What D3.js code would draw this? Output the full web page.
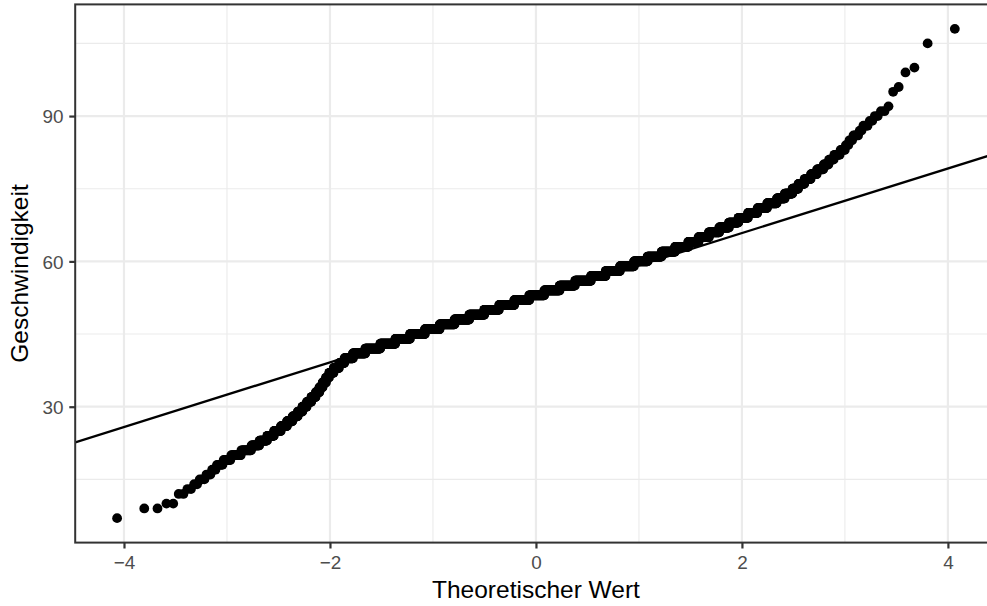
<!DOCTYPE html>
<html>
<head>
<meta charset="utf-8">
<script src="https://cdn.jsdelivr.net/npm/d3@7"></script>
<style>
  body { margin: 0; background: #fff; }
  text { font-family: "Liberation Sans", Arial, Helvetica, sans-serif; }
</style>
</head>
<body>
<div id="chart"></div>
<script>
const speedValues = [7, 9, 10, 12, 13, 14, 15, 16, 17, 18, 19, 20, 21, 22, 23, 24, 25, 26, 27, 28,
    29, 30, 31, 32, 33, 34, 35, 36, 37, 38, 39, 40, 41, 42, 43, 44, 45, 46, 47, 48,
    49, 50, 51, 52, 53, 54, 55, 56, 57, 58, 59, 60, 61, 62, 63, 64, 65, 66, 67, 68,
    69, 70, 71, 72, 73, 74, 75, 76, 77, 78, 79, 80, 81, 82, 83, 84, 85, 86, 87, 88,
    89, 90, 91, 92, 95, 96, 99, 100, 105, 108];
const speedCounts = [1, 2, 2, 2, 2, 2, 3, 3, 3, 5, 7, 12, 16, 16, 19, 20, 24, 25, 26, 28,
    27, 29, 33, 35, 31, 30, 32, 34, 52, 67, 74, 131, 232, 348, 434, 522, 622, 727, 830, 931,
    1021, 1110, 1175, 1215, 1230, 1225, 1200, 1160, 1000, 880, 770, 654, 592, 475, 391, 262, 223, 190, 148, 123,
    103, 84, 70, 57, 38, 31, 20, 18, 16, 13, 12, 8, 7, 7, 5, 3, 3, 4, 2, 3,
    2, 2, 2, 1, 1, 1, 1, 1, 1, 1];

const xTicks = [-4, -2, 0, 2, 4];
const xTickLabels = ["\u22124", "\u22122", "0", "2", "4"];
const yTicks = [30, 60, 90];
const yTickLabels = ["30", "60", "90"];
const xTitle = "Theoretischer Wert";
const yTitle = "Geschwindigkeit";

// inverse normal cdf (Acklam)
function qnorm(p) {
    const a = [-3.969683028665376e+01, 2.209460984245205e+02, -2.759285104469687e+02, 1.383577518672690e+02, -3.066479806614716e+01, 2.506628277459239e+00];
    const b = [-5.447609879822406e+01, 1.615858368580409e+02, -1.556989798598866e+02, 6.680131188771972e+01, -1.328068155288572e+01];
    const c = [-7.784894002430293e-03, -3.223964580411365e-01, -2.400758277161838e+00, -2.549732539343734e+00, 4.374664141464968e+00, 2.938163982698783e+00];
    const d = [7.784695709041462e-03, 3.224671290700398e-01, 2.445134137142996e+00, 3.754408661907416e+00];
    const pl = 0.02425;
    let q, r;
    if (p < pl) {
        q = Math.sqrt(-2 * Math.log(p));
        return (((((c[0]*q+c[1])*q+c[2])*q+c[3])*q+c[4])*q+c[5]) / ((((d[0]*q+d[1])*q+d[2])*q+d[3])*q+1);
    }
    if (p > 1 - pl) {
        q = Math.sqrt(-2 * Math.log(1 - p));
        return -(((((c[0]*q+c[1])*q+c[2])*q+c[3])*q+c[4])*q+c[5]) / ((((d[0]*q+d[1])*q+d[2])*q+d[3])*q+1);
    }
    q = p - 0.5; r = q * q;
    return (((((a[0]*r+a[1])*r+a[2])*r+a[3])*r+a[4])*r+a[5])*q / (((((b[0]*r+b[1])*r+b[2])*r+b[3])*r+b[4])*r+1);
}

// expand the frequency table to a sorted sample, then stat_qq
const sample = [];
speedValues.forEach((v, i) => { for (let k = 0; k < speedCounts[i]; k++) sample.push(v); });
const n = sample.length;
const qq = sample.map((v, i) => ({ theo: qnorm((i + 0.5) / n), speed: v }));

// stat_qq_line through the quartiles
const q1 = d3.quantile(sample, 0.25), q3 = d3.quantile(sample, 0.75);
const slope = (q3 - q1) / (qnorm(0.75) - qnorm(0.25));
const intercept = q1 - slope * qnorm(0.25);

const width = 987, height = 606;
const panel = { left: 75.2, right: 996.7, top: 4.4, bottom: 542.6 };

const xExt = d3.extent(qq, d => d.theo), yExt = d3.extent(sample);
const xPad = (xExt[1] - xExt[0]) * 0.05, yPad = (yExt[1] - yExt[0]) * 0.05;
const x = d3.scaleLinear().domain([xExt[0] - xPad, xExt[1] + xPad]).range([panel.left, panel.right]);
const y = d3.scaleLinear().domain([yExt[0] - yPad, yExt[1] + yPad]).range([panel.bottom, panel.top]);

const svg = d3.select("#chart").append("svg")
    .attr("width", width)
    .attr("height", height);

svg.append("defs").append("clipPath").attr("id", "panelClip")
    .append("rect")
    .attr("x", panel.left).attr("y", panel.top)
    .attr("width", panel.right - panel.left).attr("height", panel.bottom - panel.top);

// minor grid
const xMinor = d3.range(-3, 5, 2).filter(v => v > x.domain()[0] && v < x.domain()[1]);
const yMinor = [15, 45, 75, 105].filter(v => v > y.domain()[0] && v < y.domain()[1]);
const grid = svg.append("g").attr("clip-path", "url(#panelClip)");
grid.selectAll(".xminor").data(xMinor).enter().append("line")
    .attr("x1", d => x(d)).attr("x2", d => x(d))
    .attr("y1", panel.top).attr("y2", panel.bottom)
    .attr("stroke", "#EBEBEB").attr("stroke-width", 1.1);
grid.selectAll(".yminor").data(yMinor).enter().append("line")
    .attr("x1", panel.left).attr("x2", panel.right)
    .attr("y1", d => y(d)).attr("y2", d => y(d))
    .attr("stroke", "#EBEBEB").attr("stroke-width", 1.1);
// major grid
grid.selectAll(".xmajor").data(xTicks).enter().append("line")
    .attr("x1", d => x(d)).attr("x2", d => x(d))
    .attr("y1", panel.top).attr("y2", panel.bottom)
    .attr("stroke", "#EBEBEB").attr("stroke-width", 2.2);
grid.selectAll(".ymajor").data(yTicks).enter().append("line")
    .attr("x1", panel.left).attr("x2", panel.right)
    .attr("y1", d => y(d)).attr("y2", d => y(d))
    .attr("stroke", "#EBEBEB").attr("stroke-width", 2.2);

// points (skip exact pixel duplicates, they overlap anyway)
const seen = new Set();
const dots = qq.filter(d => {
    const key = Math.round(x(d.theo) * 3) + "_" + d.speed;
    if (seen.has(key)) return false;
    seen.add(key);
    return true;
});
const plot = svg.append("g").attr("clip-path", "url(#panelClip)");
plot.selectAll("circle").data(dots).enter().append("circle")
    .attr("cx", d => x(d.theo))
    .attr("cy", d => y(d.speed))
    .attr("r", 4.9)
    .attr("fill", "#000");

// qq line
const xd = x.domain();
plot.append("line")
    .attr("x1", x(xd[0])).attr("y1", y(intercept + slope * xd[0]))
    .attr("x2", x(xd[1])).attr("y2", y(intercept + slope * xd[1]))
    .attr("stroke", "#000").attr("stroke-width", 2.3);

// panel border
svg.append("rect")
    .attr("x", panel.left).attr("y", panel.top)
    .attr("width", panel.right - panel.left).attr("height", panel.bottom - panel.top)
    .attr("fill", "none").attr("stroke", "#333333").attr("stroke-width", 2);

// axes
const xAxis = d3.axisBottom(x).tickValues(xTicks)
    .tickFormat((d, i) => xTickLabels[i]).tickSize(5.9).tickPadding(4.7);
const gx = svg.append("g").attr("transform", "translate(0," + panel.bottom + ")").call(xAxis);
gx.select(".domain").remove();
gx.selectAll(".tick line").attr("stroke", "#333333").attr("stroke-width", 2.2);
gx.selectAll(".tick text").attr("fill", "#4D4D4D").attr("font-size", 18.9)
    .attr("font-family", "'Liberation Sans', Arial, sans-serif")
    .attr("dy", null).attr("y", 26.9);

const yAxis = d3.axisLeft(y).tickValues(yTicks)
    .tickFormat((d, i) => yTickLabels[i]).tickSize(5.9).tickPadding(4.7);
const gy = svg.append("g").attr("transform", "translate(" + panel.left + ",0)").call(yAxis);
gy.select(".domain").remove();
gy.selectAll(".tick line").attr("stroke", "#333333").attr("stroke-width", 2.2);
gy.selectAll(".tick text").attr("fill", "#4D4D4D").attr("font-size", 18.9)
    .attr("font-family", "'Liberation Sans', Arial, sans-serif")
    .attr("x", -11.8).attr("dy", "0.35em");

// axis titles
svg.append("text")
    .attr("x", (panel.left + panel.right) / 2)
    .attr("y", 597.5)
    .attr("text-anchor", "middle")
    .attr("font-size", 24.5)
    .attr("fill", "#000")
    .text(xTitle);

svg.append("text")
    .attr("transform", "translate(28," + ((panel.top + panel.bottom) / 2) + ") rotate(-90)")
    .attr("text-anchor", "middle")
    .attr("font-size", 24.5)
    .attr("fill", "#000")
    .text(yTitle);
</script>
</body>
</html>
